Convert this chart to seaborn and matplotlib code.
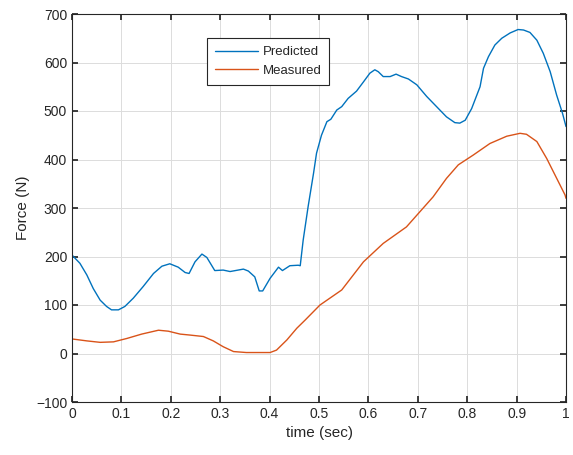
import numpy as np
import pandas as pd
import matplotlib
matplotlib.use("Agg")
import matplotlib.pyplot as plt
import seaborn as sns

# Predicted force (N)
pred_t = [0.0, 0.016, 0.030, 0.043, 0.057, 0.070, 0.080, 0.094, 0.107, 0.124, 0.144,
          0.165, 0.182, 0.198, 0.215, 0.229, 0.237, 0.249, 0.263, 0.273, 0.289,
          0.306, 0.320, 0.347, 0.357, 0.370, 0.379, 0.386, 0.401, 0.418, 0.426,
          0.441, 0.458, 0.462, 0.468, 0.478, 0.489, 0.495, 0.505, 0.516, 0.524,
          0.536, 0.546, 0.559, 0.576, 0.590, 0.603, 0.613, 0.620, 0.630, 0.644,
          0.656, 0.667, 0.681, 0.698, 0.718, 0.738, 0.758, 0.775, 0.785, 0.796,
          0.809, 0.826, 0.833, 0.843, 0.856, 0.870, 0.887, 0.903, 0.914, 0.927,
          0.941, 0.954, 0.968, 0.981, 0.993, 1.0]
pred_f = [203, 186, 162, 134, 110, 97, 90, 90, 97, 114, 138,
          165, 180, 185, 178, 167, 165, 189, 205, 198, 171,
          172, 169, 174, 170, 158, 129, 129, 155, 178, 171,
          181, 182, 181, 234, 303, 372, 413, 450, 478, 483,
          502, 509, 526, 541, 560, 578, 585, 581, 571, 571,
          576, 571, 566, 554, 530, 509, 488, 476, 475, 481,
          505, 550, 588, 612, 636, 650, 661, 668, 667, 662,
          646, 619, 581, 533, 495, 468]

# Measured force (N)
meas_t = [0.0, 0.030, 0.057, 0.084, 0.111, 0.141, 0.175, 0.195, 0.219, 0.239, 0.266,
          0.286, 0.306, 0.327, 0.353, 0.401, 0.414, 0.435, 0.455, 0.472, 0.502,
          0.546, 0.590, 0.630, 0.677, 0.731, 0.758, 0.782, 0.812, 0.846, 0.880,
          0.907, 0.920, 0.941, 0.961, 0.998, 1.0]
meas_f = [30, 26, 23, 24, 31, 40, 48, 46, 40, 38, 35,
          26, 14, 4, 2, 2, 7, 28, 52, 69, 100,
          131, 189, 227, 261, 323, 361, 389, 409, 433, 448,
          454, 452, 437, 402, 327, 320]

series_names = ["Predicted", "Measured"]
colors = ["#0072BD", "#D95319"]

df = pd.concat([
    pd.DataFrame({"t": pred_t, "F": pred_f, "series": series_names[0]}),
    pd.DataFrame({"t": meas_t, "F": meas_f, "series": series_names[1]}),
])

sns.set_theme(style="ticks")
plt.rcParams["font.family"] = ["Liberation Sans", "DejaVu Sans"]

fig = plt.figure(figsize=(5.73, 4.55), dpi=100)
ax = fig.add_axes([72/573, 1 - 402/455, 494/573, 388/455])

sns.lineplot(data=df, x="t", y="F", hue="series", palette=colors,
             hue_order=series_names, ax=ax, linewidth=1.0, sort=False,
             estimator=None)

ax.set_xlim(0, 1)
ax.set_ylim(-100, 700)
xt = np.round(np.arange(0, 1.01, 0.1), 1)
ax.set_xticks(xt)
ax.set_xticklabels([("%g" % v) for v in xt])
ax.set_yticks(np.arange(-100, 701, 100))
ax.grid(True, color="#dcdcdc", linewidth=0.7)
ax.set_axisbelow(True)
for s in ax.spines.values():
    s.set_visible(True)
    s.set_color("#262626")
    s.set_linewidth(0.8)
ax.tick_params(direction="in", length=4, labelsize=10, colors="#262626",
               top=True, right=True)
ax.set_xlabel("time (sec)", fontsize=11, color="#262626")
ax.set_ylabel("Force (N)", fontsize=11, color="#262626")

leg = ax.legend(loc="upper left", bbox_to_anchor=(0.2733, 0.938), fontsize=9.5,
                frameon=True, fancybox=False, edgecolor="#262626", framealpha=1,
                handlelength=3.3, borderpad=0.6, labelspacing=0.5,
                handletextpad=0.3, borderaxespad=0)
leg.get_frame().set_linewidth(0.8)

fig.savefig("out.png", dpi=100)
